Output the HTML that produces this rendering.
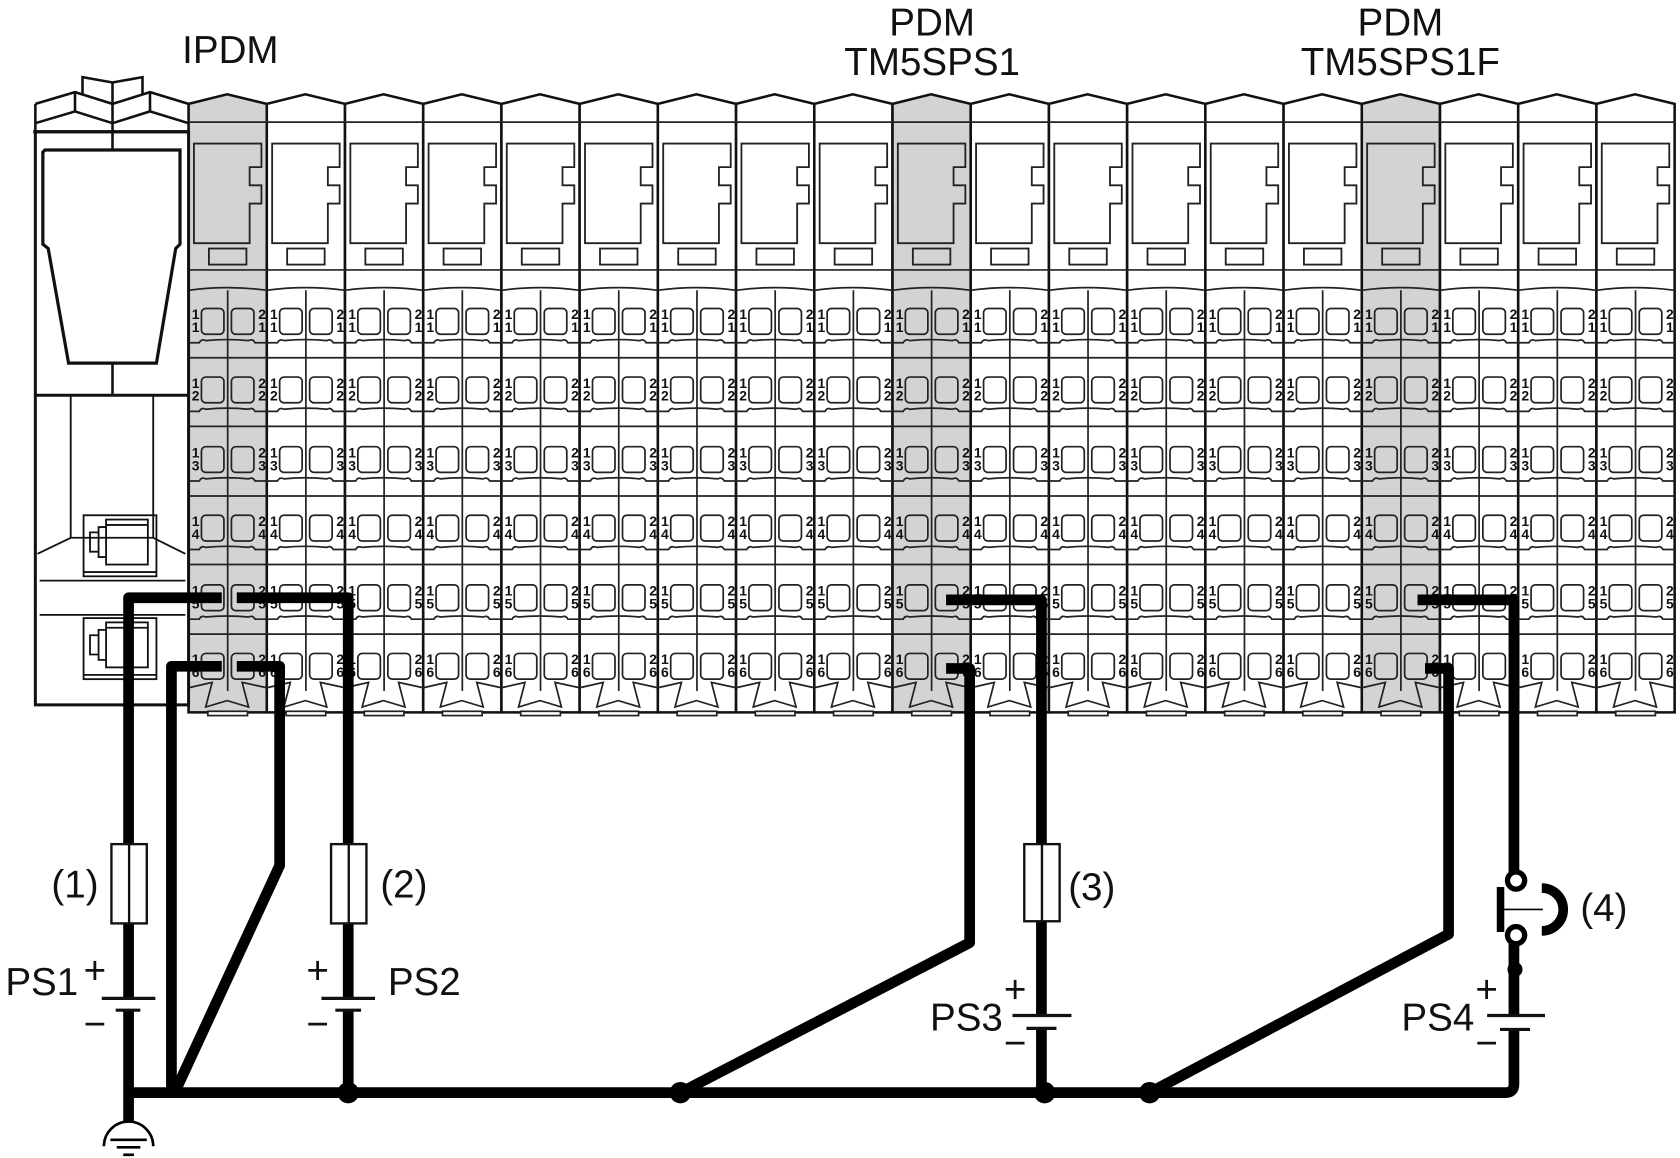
<!DOCTYPE html>
<html><head><meta charset="utf-8"><style>html,body{margin:0;padding:0;background:#fff}svg{display:block}</style></head><body>
<svg width="1680" height="1158" viewBox="0 0 1568 1081" preserveAspectRatio="none" xmlns="http://www.w3.org/2000/svg" font-family="Liberation Sans, sans-serif">
<defs>
<g id="mod">
 <path d="M5,134 H68 V156 H57 V173 H68 V190 H57 V227 H5 Z" fill="none" stroke="#222" stroke-width="1.7"/>
 <rect x="19" y="232" width="35" height="15" fill="none" stroke="#222" stroke-width="1.7"/>
 <g stroke="#222" stroke-width="1.6" fill="none">
 <line x1="0" y1="114" x2="73" y2="114"/><line x1="0" y1="252" x2="73" y2="252"/>
 <path d="M0,271 Q36,266 73,271"/>
 <line x1="36.5" y1="271" x2="36.5" y2="645"/>
 <rect x="12" y="288" width="21" height="24" rx="4"/><rect x="40" y="288" width="21" height="24" rx="4"/>
 <path d="M0,320 H10 Q12,316 16,318 Q36,316 56,318 Q60,316 62,320 H73"/><line x1="0" y1="334" x2="73" y2="334"/>
 <rect x="12" y="352" width="21" height="24" rx="4"/><rect x="40" y="352" width="21" height="24" rx="4"/>
 <path d="M0,384 H10 Q12,380 16,382 Q36,380 56,382 Q60,380 62,384 H73"/><line x1="0" y1="398" x2="73" y2="398"/>
 <rect x="12" y="417" width="21" height="24" rx="4"/><rect x="40" y="417" width="21" height="24" rx="4"/>
 <path d="M0,449 H10 Q12,445 16,447 Q36,445 56,447 Q60,445 62,449 H73"/><line x1="0" y1="463" x2="73" y2="463"/>
 <rect x="12" y="481" width="21" height="24" rx="4"/><rect x="40" y="481" width="21" height="24" rx="4"/>
 <path d="M0,513 H10 Q12,509 16,511 Q36,509 56,511 Q60,509 62,513 H73"/><line x1="0" y1="527" x2="73" y2="527"/>
 <rect x="12" y="546" width="21" height="24" rx="4"/><rect x="40" y="546" width="21" height="24" rx="4"/>
 <path d="M0,578 H10 Q12,574 16,576 Q36,574 56,576 Q60,574 62,578 H73"/><line x1="0" y1="592" x2="73" y2="592"/>
 <rect x="12" y="610" width="21" height="24" rx="4"/><rect x="40" y="610" width="21" height="24" rx="4"/>
 <path d="M0,642 L22,637 L16,660 L36,654 L56,660 L50,637 L73,642"/>
 </g>
 <rect x="18" y="664" width="37" height="4" fill="#fff" stroke="#222" stroke-width="1.6"/>
</g>
<path id="shape" d="M0,97 L36,88 L73,97 V665 H0 Z"/>
</defs>

<g stroke="#111" stroke-width="2.4">
<use href="#shape" x="176" fill="#d3d3d5"/><use href="#shape" x="249" fill="#fff"/><use href="#shape" x="322" fill="#fff"/><use href="#shape" x="395" fill="#fff"/><use href="#shape" x="468" fill="#fff"/><use href="#shape" x="541" fill="#fff"/><use href="#shape" x="614" fill="#fff"/><use href="#shape" x="687" fill="#fff"/><use href="#shape" x="760" fill="#fff"/><use href="#shape" x="833" fill="#d3d3d5"/><use href="#shape" x="906" fill="#fff"/><use href="#shape" x="979" fill="#fff"/><use href="#shape" x="1052" fill="#fff"/><use href="#shape" x="1125" fill="#fff"/><use href="#shape" x="1198" fill="#fff"/><use href="#shape" x="1271" fill="#d3d3d5"/><use href="#shape" x="1344" fill="#fff"/><use href="#shape" x="1417" fill="#fff"/><use href="#shape" x="1490" fill="#fff"/>
</g>
<use href="#mod" x="176"/><use href="#mod" x="249"/><use href="#mod" x="322"/><use href="#mod" x="395"/><use href="#mod" x="468"/><use href="#mod" x="541"/><use href="#mod" x="614"/><use href="#mod" x="687"/><use href="#mod" x="760"/><use href="#mod" x="833"/><use href="#mod" x="906"/><use href="#mod" x="979"/><use href="#mod" x="1052"/><use href="#mod" x="1125"/><use href="#mod" x="1198"/><use href="#mod" x="1271"/><use href="#mod" x="1344"/><use href="#mod" x="1417"/><use href="#mod" x="1490"/>

<g font-size="13" font-weight="bold" fill="#111">
<text x="179 252 325 398 471 544 617 690 763 836 909 982 1055 1128 1201 1274 1347 1420 1493" y="298">1111111111111111111</text>
<text x="179 252 325 398 471 544 617 690 763 836 909 982 1055 1128 1201 1274 1347 1420 1493" y="310">1111111111111111111</text>
<text x="241 314 387 460 533 606 679 752 825 898 971 1044 1117 1190 1263 1336 1409 1482 1555" y="298">2222222222222222222</text>
<text x="241 314 387 460 533 606 679 752 825 898 971 1044 1117 1190 1263 1336 1409 1482 1555" y="310">1111111111111111111</text>
<text x="179 252 325 398 471 544 617 690 763 836 909 982 1055 1128 1201 1274 1347 1420 1493" y="362">1111111111111111111</text>
<text x="179 252 325 398 471 544 617 690 763 836 909 982 1055 1128 1201 1274 1347 1420 1493" y="374">2222222222222222222</text>
<text x="241 314 387 460 533 606 679 752 825 898 971 1044 1117 1190 1263 1336 1409 1482 1555" y="362">2222222222222222222</text>
<text x="241 314 387 460 533 606 679 752 825 898 971 1044 1117 1190 1263 1336 1409 1482 1555" y="374">2222222222222222222</text>
<text x="179 252 325 398 471 544 617 690 763 836 909 982 1055 1128 1201 1274 1347 1420 1493" y="427">1111111111111111111</text>
<text x="179 252 325 398 471 544 617 690 763 836 909 982 1055 1128 1201 1274 1347 1420 1493" y="439">3333333333333333333</text>
<text x="241 314 387 460 533 606 679 752 825 898 971 1044 1117 1190 1263 1336 1409 1482 1555" y="427">2222222222222222222</text>
<text x="241 314 387 460 533 606 679 752 825 898 971 1044 1117 1190 1263 1336 1409 1482 1555" y="439">3333333333333333333</text>
<text x="179 252 325 398 471 544 617 690 763 836 909 982 1055 1128 1201 1274 1347 1420 1493" y="491">1111111111111111111</text>
<text x="179 252 325 398 471 544 617 690 763 836 909 982 1055 1128 1201 1274 1347 1420 1493" y="503">4444444444444444444</text>
<text x="241 314 387 460 533 606 679 752 825 898 971 1044 1117 1190 1263 1336 1409 1482 1555" y="491">2222222222222222222</text>
<text x="241 314 387 460 533 606 679 752 825 898 971 1044 1117 1190 1263 1336 1409 1482 1555" y="503">4444444444444444444</text>
<text x="179 252 325 398 471 544 617 690 763 836 909 982 1055 1128 1201 1274 1347 1420 1493" y="556">1111111111111111111</text>
<text x="179 252 325 398 471 544 617 690 763 836 909 982 1055 1128 1201 1274 1347 1420 1493" y="568">5555555555555555555</text>
<text x="241 314 387 460 533 606 679 752 825 898 971 1044 1117 1190 1263 1336 1409 1482 1555" y="556">2222222222222222222</text>
<text x="241 314 387 460 533 606 679 752 825 898 971 1044 1117 1190 1263 1336 1409 1482 1555" y="568">5555555555555555555</text>
<text x="179 252 325 398 471 544 617 690 763 836 909 982 1055 1128 1201 1274 1347 1420 1493" y="620">1111111111111111111</text>
<text x="179 252 325 398 471 544 617 690 763 836 909 982 1055 1128 1201 1274 1347 1420 1493" y="632">6666666666666666666</text>
<text x="241 314 387 460 533 606 679 752 825 898 971 1044 1117 1190 1263 1336 1409 1482 1555" y="620">2222222222222222222</text>
<text x="241 314 387 460 533 606 679 752 825 898 971 1044 1117 1190 1263 1336 1409 1482 1555" y="632">6666666666666666666</text>
</g>

<g stroke="#111" stroke-width="2.4" fill="#fff" stroke-linejoin="miter">
<rect x="33" y="123" width="143" height="535" stroke-width="2.8"/>
<path d="M77,88 V72 L105,77 L133,72 V88" fill="none"/>
<line x1="105" y1="77" x2="105" y2="123"/>
<path d="M33,97 L70,86 L105,97 L140,86 L176,97" fill="none"/>
<path d="M33,115 L70,104 L105,115 L140,104 L176,115" fill="none"/>
<line x1="33" y1="97" x2="33" y2="123"/><line x1="70" y1="86" x2="70" y2="104"/><line x1="140" y1="86" x2="140" y2="104"/>
<line x1="31" y1="123" x2="176" y2="123" stroke-width="3"/>
<line x1="105" y1="123" x2="105" y2="140"/>
<path d="M42,140 H168 V228 L164,232 L146,339 H64 L45,232 L40,228 V142 Z" stroke-width="3"/>
<line x1="105" y1="339" x2="105" y2="369"/>
<line x1="33" y1="369" x2="176" y2="369" stroke-width="2.8"/>
</g>
<g stroke="#111" stroke-width="1.7" fill="none">
<path d="M66,369 V502 H143 V369"/><path d="M66,502 L35,517 M143,502 L173,517"/>
<line x1="37" y1="542" x2="173" y2="542"/><line x1="37" y1="574" x2="173" y2="574"/>
<rect x="78" y="481" width="68" height="57"/><line x1="78" y1="534" x2="146" y2="534"/>
<rect x="99" y="485" width="39" height="42"/><line x1="99" y1="490" x2="138" y2="490"/>
<path d="M99,492 H92 V520 H99 M92,497 H84 V515 H92"/>
<rect x="78" y="577" width="68" height="57"/><line x1="78" y1="630" x2="146" y2="630"/>
<rect x="99" y="581" width="39" height="42"/><line x1="99" y1="586" x2="138" y2="586"/>
<path d="M99,588 H92 V616 H99 M92,593 H84 V611 H92"/>
</g>

<g stroke="#000" stroke-width="10" fill="none" stroke-linejoin="round">
<path d="M207,558 H120 V932"/><path d="M120,943 V1048"/>
<path d="M221,558 H325 V932"/><path d="M325,943 V1020"/>
<path d="M207,622 H160 V1020"/>
<path d="M221,622 H261 V808 L163,1020"/>
<path d="M116,1020 H1405 Q1413,1020 1413,1012 V961"/>
<path d="M883,560 H972 V948"/><path d="M972,960 V1020"/>
<path d="M883,624 H905 V880 L635,1020"/>
<path d="M1323,560 H1413 V822"/><path d="M1413,873 V948"/>
<path d="M1330,624 H1352 V872 L1073,1020"/>
</g>
<g fill="#fff" stroke="#111" stroke-width="2.2">
<rect x="104" y="788" width="33" height="74"/><line x1="120.5" y1="788" x2="120.5" y2="862"/>
<rect x="309" y="788" width="33" height="74"/><line x1="325.5" y1="788" x2="325.5" y2="862"/>
<rect x="956" y="788" width="33" height="72"/><line x1="972.5" y1="788" x2="972.5" y2="860"/>
</g>
<g stroke="#111" stroke-width="3">
<line x1="95" y1="932" x2="145" y2="932"/><line x1="108" y1="943" x2="131" y2="943"/>
<line x1="300" y1="932" x2="350" y2="932"/><line x1="313" y1="943" x2="337" y2="943"/>
<line x1="945" y1="948" x2="1000" y2="948"/><line x1="958" y1="960" x2="986" y2="960"/>
<line x1="1388" y1="948" x2="1442" y2="948"/><line x1="1400" y1="961" x2="1428" y2="961"/>
</g>
<g fill="#000">
<circle cx="325" cy="1020" r="10"/><circle cx="635" cy="1020" r="10"/><circle cx="975" cy="1020" r="10"/><circle cx="1073" cy="1020" r="10"/>
<circle cx="1414" cy="905" r="7"/>
</g>
<rect x="1397" y="828" width="7" height="42" fill="#000"/>
<line x1="1400" y1="849" x2="1440" y2="849" stroke="#000" stroke-width="1.5"/>
<path d="M1439,829 A20,20 0 0 1 1439,869" fill="none" stroke="#000" stroke-width="9"/>
<circle cx="1415" cy="822" r="8" fill="#fff" stroke="#000" stroke-width="5"/>
<circle cx="1415" cy="873" r="8" fill="#fff" stroke="#000" stroke-width="5"/>
<g stroke="#000" fill="none">
<path d="M97,1070 A23,23 0 0 1 143,1070" stroke-width="2.5"/>
<line x1="103" y1="1064" x2="137" y2="1064" stroke-width="2.5"/>
<line x1="109" y1="1071" x2="131" y2="1071" stroke-width="2.5"/>
<line x1="115" y1="1078" x2="125" y2="1078" stroke-width="2.5"/>
</g>
<g fill="#111" font-size="36">
<text x="170" y="59">IPDM</text>
<text x="870" y="33" text-anchor="middle">PDM</text>
<text x="870" y="70" text-anchor="middle">TM5SPS1</text>
<text x="1307" y="33" text-anchor="middle">PDM</text>
<text x="1307" y="70" text-anchor="middle">TM5SPS1F</text>
<text x="48" y="838">(1)</text>
<text x="355" y="838">(2)</text>
<text x="997" y="840">(3)</text>
<text x="1475" y="860">(4)</text>
<text x="5" y="929">PS1</text>
<text x="362" y="929">PS2</text>
<text x="868" y="962">PS3</text>
<text x="1308" y="962">PS4</text>
<text x="78" y="918">+</text><text x="78" y="968">−</text>
<text x="286" y="918">+</text><text x="286" y="968">−</text>
<text x="937" y="936">+</text><text x="937" y="986">−</text>
<text x="1377" y="936">+</text><text x="1377" y="986">−</text>
</g>
</svg>
</body></html>
